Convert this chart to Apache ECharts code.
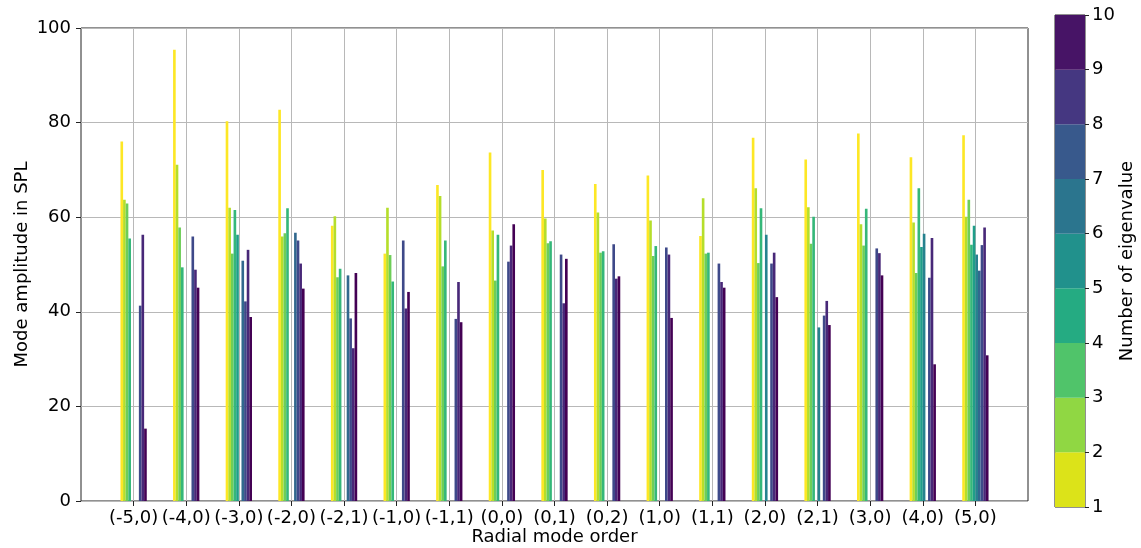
<!DOCTYPE html>
<html>
<head>
<meta charset="utf-8">
<script src="https://cdn.jsdelivr.net/npm/echarts@6/dist/echarts.min.js"></script>
<style>
html,body{margin:0;padding:0;background:#fff;}
#chart{width:1141px;height:548px;}
</style>
</head>
<body>
<div id="chart"></div>
<script>
// ---- data ----
const categories = ['(-5,0)','(-4,0)','(-3,0)','(-2,0)','(-2,1)','(-1,0)','(-1,1)','(0,0)','(0,1)','(0,2)','(1,0)','(1,1)','(2,0)','(2,1)','(3,0)','(4,0)','(5,0)'];
const eig1  = [76.0, 95.4, 80.3, 82.7, 58.2, 52.3, 66.8, 73.7, 70.0, 67.0, 68.8, 56.0, 76.8, 72.2, 77.7, 72.7, 77.3];
const eig2  = [63.7, 71.1, 62.0, 55.9, 60.2, 62.0, 64.5, 57.2, 59.7, 61.0, 59.3, 64.0, 66.1, 62.1, 58.5, 58.9, 60.1];
const eig3  = [62.9, 57.8, 52.3, 56.6, 47.3, 52.0, 49.6, 46.6, 54.5, 52.5, 51.8, 52.3, 50.3, 54.4, 54.0, 48.2, 63.7];
const eig4  = [55.5, 49.4, 61.5, 61.9, 49.1, 46.4, 55.1, 56.3, 54.9, 52.8, 53.9, 52.5, 61.9, 60.1, 61.8, 66.1, 54.2];
const eig5  = [null, null, 56.3, null, null, null, null, null, null, null, null, null, null, null, null, 53.7, 58.2];
const eig6  = [null, null, null, null, null, null, null, null, null, null, null, null, 56.3, 36.7, null, 56.5, 52.1];
const eig7  = [null, null, 50.8, 56.7, 47.7, null, null, null, null, null, null, null, null, null, null, null, 48.7];
const eig8  = [41.3, 55.9, 42.2, 55.1, 38.6, 55.1, 38.5, 50.6, 52.1, 54.3, 53.6, 50.2, 50.2, 39.2, 53.4, 47.2, 54.1];
const eig9  = [56.3, 48.9, 53.1, 50.2, 32.3, 40.7, 46.3, 54.0, 41.8, 47.0, 52.1, 46.3, 52.5, 42.3, 52.4, 55.6, 57.8];
const eig10 = [15.3, 45.1, 38.9, 44.9, 48.2, 44.2, 37.8, 58.5, 51.2, 47.5, 38.7, 45.1, 43.1, 37.2, 47.7, 28.9, 30.8];
const eigenSeries = [eig1, eig2, eig3, eig4, eig5, eig6, eig7, eig8, eig9, eig10];
const eigenNames = ['1','2','3','4','5','6','7','8','9','10'];
const yTicks = [0, 20, 40, 60, 80, 100];
const colorbarTicks = ['1','2','3','4','5','6','7','8','9','10'];

// ---- styles ----
const barColors = ['#fde725','#b5de2b','#6ece58','#35b779','#1f9e89','#26828e','#31688e','#3e4989','#482878','#440154'];
const bandColors = ['#dce319','#90d743','#50c46a','#25ab82','#21918c','#2b758e','#38598c','#453781','#471466'];
const FONT = 'DejaVu Sans';

const chart = echarts.init(document.getElementById('chart'), null, {renderer: 'canvas'});

const series = eigenSeries.map((arr, k) => ({
  name: eigenNames[k],
  type: 'bar',
  xAxisIndex: 0,
  yAxisIndex: 0,
  barWidth: 2.63,
  barGap: '0%',
  itemStyle: {color: barColors[k]},
  data: arr.map((v, i) => [i, v == null ? '-' : v]),
  animation: false
}));

bandColors.forEach((c, k) => {
  series.push({
    type: 'bar',
    xAxisIndex: 1,
    yAxisIndex: 1,
    stack: 'cb',
    barWidth: '100%',
    itemStyle: {color: c},
    data: [1],
    animation: false,
    silent: true
  });
});

const option = {
  backgroundColor: '#ffffff',
  animation: false,
  grid: [
    {left: 81, right: 113, top: 28, bottom: 47, show: true, borderColor: '#222', borderWidth: 1, backgroundColor: 'transparent', containLabel: false, outerBoundsMode: 'none'},
    {left: 1055, width: 30, top: 15, bottom: 41, show: true, borderColor: '#222', borderWidth: 1, containLabel: false, outerBoundsMode: 'none'}
  ],
  xAxis: [
    {
      type: 'value', gridIndex: 0, min: -1, max: 17, interval: 1,
      axisLine: {show: false, onZero: false},
      axisTick: {show: true, length: 5, lineStyle: {color: '#222'}, customValues: categories.map((c, i) => i)},
      axisLabel: {
        customValues: categories.map((c, i) => i),
        formatter: v => categories[Math.round(v)] || '',
        fontFamily: FONT, fontSize: 18, color: '#000', margin: 8
      },
      splitLine: {show: true, lineStyle: {color: '#b8b8b8', width: 1}},
      name: 'Radial mode order', nameLocation: 'middle', nameGap: 27, nameMoveOverlap: false,
      nameTextStyle: {fontFamily: FONT, fontSize: 18, color: '#000'}
    },
    {
      type: 'category', gridIndex: 1, data: ['cb'], show: false
    }
  ],
  yAxis: [
    {
      type: 'value', gridIndex: 0, min: yTicks[0], max: yTicks[yTicks.length - 1], interval: 20,
      axisLine: {show: false, onZero: false},
      axisTick: {show: true, length: 5, lineStyle: {color: '#222'}},
      axisLabel: {fontFamily: FONT, fontSize: 18, color: '#000', margin: 10},
      splitLine: {show: true, lineStyle: {color: '#b8b8b8', width: 1}},
      name: 'Mode amplitude in SPL', nameLocation: 'middle', nameGap: 50, nameRotate: 90, nameMoveOverlap: false,
      nameTextStyle: {fontFamily: FONT, fontSize: 18, color: '#000'}
    },
    {
      type: 'value', gridIndex: 1, min: 0, max: 9, interval: 1, position: 'right',
      axisLine: {show: false, onZero: false},
      axisTick: {show: true, length: 4, lineStyle: {color: '#222'}},
      axisLabel: {formatter: v => colorbarTicks[Math.round(v)], fontFamily: FONT, fontSize: 18, color: '#000', margin: 7},
      splitLine: {show: false},
      name: 'Number of eigenvalue', nameLocation: 'middle', nameGap: 33, nameRotate: 90, nameMoveOverlap: false,
      nameTextStyle: {fontFamily: FONT, fontSize: 18, color: '#000'}
    }
  ],
  series: series
};

chart.setOption(option);
</script>
</body>
</html>
